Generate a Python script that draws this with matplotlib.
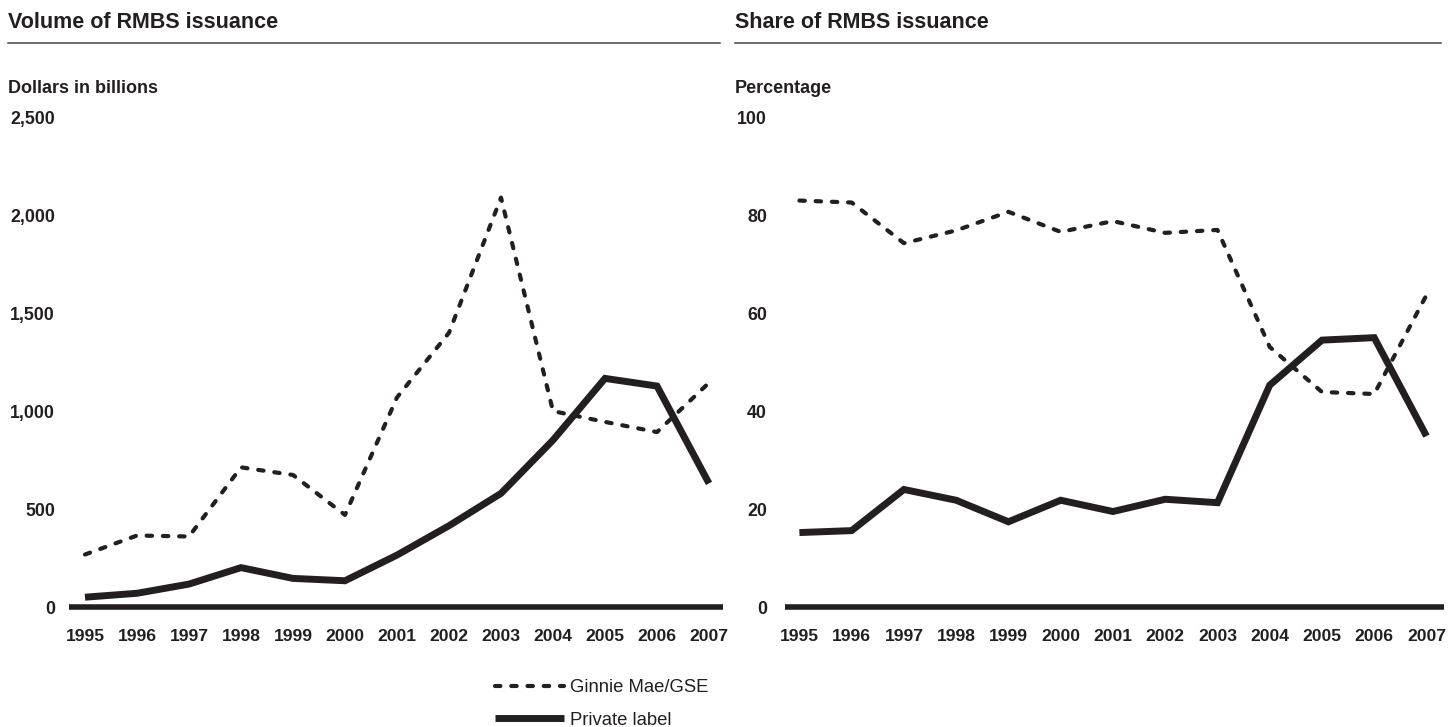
import matplotlib
matplotlib.use("Agg")
import matplotlib.pyplot as plt
from matplotlib.lines import Line2D

years = [1995, 1996, 1997, 1998, 1999, 2000, 2001, 2002, 2003, 2004, 2005, 2006, 2007]
year_labels = [str(y) for y in years]

# Volume of RMBS issuance (dollars in billions)
vol_gse = [268, 365, 360, 713, 674, 470, 1070, 1400, 2090, 1000, 945, 893, 1145]
vol_private = [50, 70, 117, 201, 146, 134, 265, 415, 580, 852, 1167, 1128, 631]

# Share of RMBS issuance (percentage)
share_gse = [83.0, 82.6, 74.3, 76.9, 80.7, 76.6, 78.8, 76.4, 77.0, 53.1, 43.9, 43.5, 63.7]
share_private = [15.2, 15.6, 24.0, 21.8, 17.4, 21.8, 19.5, 22.0, 21.3, 45.3, 54.5, 55.0, 34.9]

vol_ticks = [0, 500, 1000, 1500, 2000, 2500]
vol_tick_labels = ["0", "500", "1,000", "1,500", "2,000", "2,500"]
share_ticks = [0, 20, 40, 60, 80, 100]
share_tick_labels = ["0", "20", "40", "60", "80", "100"]

W, H = 1455, 727
DARK = "#231f20"
FONT = "Liberation Sans"
plt.rcParams["font.family"] = [FONT, "DejaVu Sans"]

fig = plt.figure(figsize=(W / 100, H / 100), dpi=100)


def fx(px):
    return px / W


def fy(py):
    return 1 - py / H


def make_axes(left_px, right_px, top_px, bottom_px):
    return fig.add_axes([fx(left_px), fy(bottom_px), fx(right_px - left_px), (bottom_px - top_px) / H])


def style(ax, xL, xR, x_first, x_last, ymax, ticks, tlabels, ypad):
    step = (x_last - x_first) / 12
    ax.set_xlim(years[0] - (x_first - xL) / step, years[-1] + (xR - x_last) / step)
    ax.set_ylim(0, ymax)
    for s in ax.spines.values():
        s.set_visible(False)
    ax.set_xticks(years)
    ax.set_xticklabels(year_labels, fontsize=12.6, fontweight="bold", color=DARK)
    ax.set_yticks(ticks)
    ax.set_yticklabels(tlabels, fontsize=12.8, fontweight="bold", color=DARK)
    ax.tick_params(axis="both", length=0)
    ax.tick_params(axis="x", pad=16)
    ax.tick_params(axis="y", pad=ypad)
    ax.axhline(0, color=DARK, lw=4.0, solid_capstyle="butt", clip_on=False, zorder=1)
    ax.patch.set_visible(False)


dash_style = dict(color=DARK, lw=3.0, linestyle=(0, (1.3, 2.6)), dash_capstyle="round",
                  solid_joinstyle="round", clip_on=False, zorder=3)
solid_style = dict(color=DARK, lw=5.0, solid_capstyle="butt", solid_joinstyle="miter",
                   clip_on=False, zorder=4)

# Left panel
axL = make_axes(69, 723, 117.3, 607)
style(axL, 69, 723, 85, 709, 2500, vol_ticks, vol_tick_labels, 10)
lg, = axL.plot(years, vol_gse, **dash_style, label="Ginnie Mae/GSE")
lp, = axL.plot(years, vol_private, **solid_style, label="Private label")

# Right panel
axR = make_axes(785, 1444, 117.3, 607)
style(axR, 785, 1444, 799.4, 1426.5, 100, share_ticks, share_tick_labels, 13)
axR.plot(years, share_gse, **dash_style)
axR.plot(years, share_private, **solid_style)

# Titles and rules
fig.text(fx(8), fy(28), "Volume of RMBS issuance", fontsize=15.5, fontweight="bold",
         color=DARK, va="baseline", ha="left")
fig.text(fx(735), fy(28), "Share of RMBS issuance", fontsize=15.5, fontweight="bold",
         color=DARK, va="baseline", ha="left")
fig.add_artist(Line2D([fx(8), fx(720)], [fy(43), fy(43)], color="#444444", lw=1.1))
fig.add_artist(Line2D([fx(735), fx(1441)], [fy(43), fy(43)], color="#444444", lw=1.1))

fig.text(fx(8), fy(93), "Dollars in billions", fontsize=13, fontweight="bold",
         color=DARK, va="baseline", ha="left")
fig.text(fx(735), fy(93), "Percentage", fontsize=13, fontweight="bold",
         color=DARK, va="baseline", ha="left")

# Legend
leg = fig.legend(handles=[lg, lp], labels=["Ginnie Mae/GSE", "Private label"],
                 loc="upper left", bbox_to_anchor=(fx(495), fy(679)),
                 frameon=False, fontsize=13.3, handlelength=3.75, handletextpad=0.3,
                 labelspacing=0.85, borderpad=0, borderaxespad=0)
for t in leg.get_texts():
    t.set_color(DARK)

fig.savefig("out.png", dpi=100)
